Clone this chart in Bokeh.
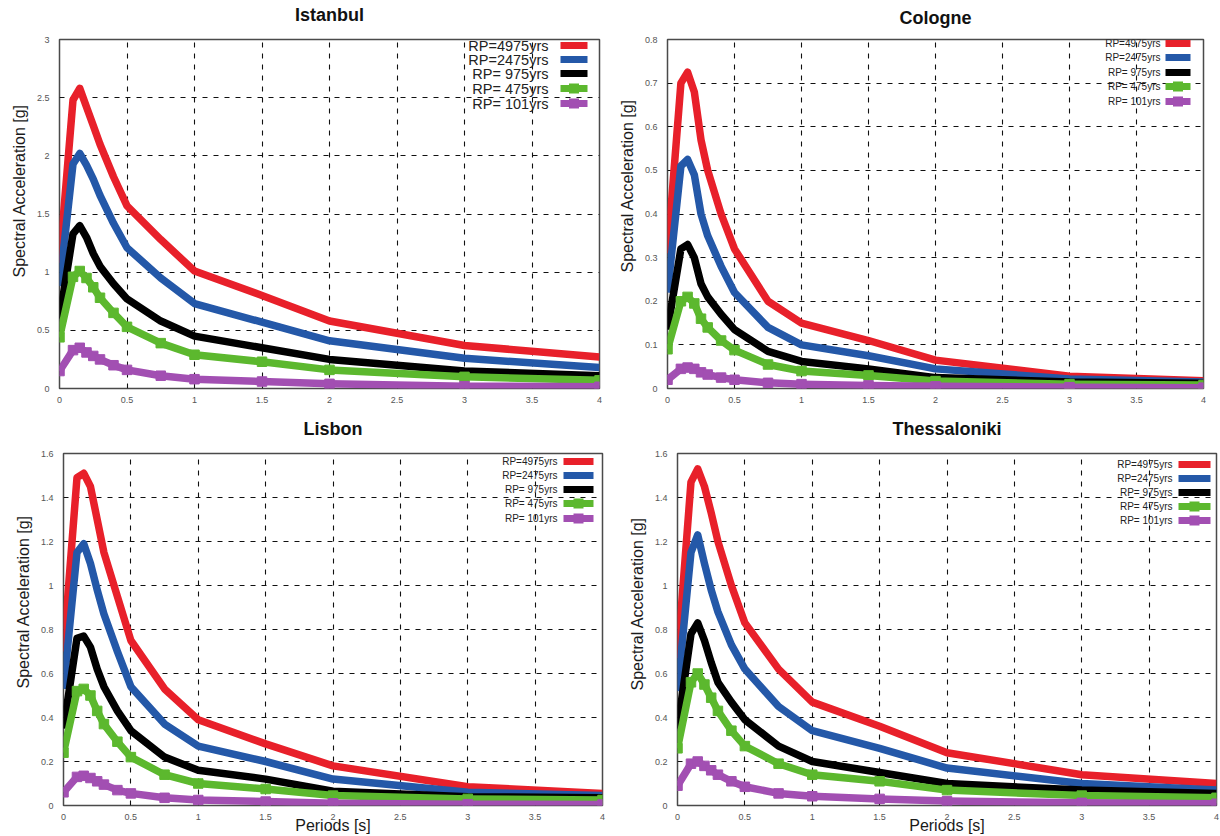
from bokeh.plotting import figure
from bokeh.layouts import column, row
from bokeh.models import FixedTicker, Title, Label, BoxAnnotation
from bokeh.embed import file_html
from bokeh.resources import INLINE

# ---------------- data ----------------
periods = [0.0, 0.1, 0.15, 0.2, 0.25, 0.3, 0.4, 0.5, 0.75, 1.0, 1.5, 2.0, 3.0, 4.0]
rp_labels = ["RP=4975yrs", "RP=2475yrs", "RP= 975yrs", "RP= 475yrs", "RP= 101yrs"]

istanbul_4975 = [1.08, 2.48, 2.58, 2.42, 2.26, 2.10, 1.82, 1.57, 1.28, 1.01, 0.80, 0.58, 0.37, 0.27]
istanbul_2475 = [0.88, 1.93, 2.02, 1.92, 1.80, 1.66, 1.42, 1.21, 0.95, 0.73, 0.57, 0.41, 0.26, 0.18]
istanbul_975 = [0.60, 1.33, 1.40, 1.30, 1.16, 1.05, 0.90, 0.77, 0.58, 0.45, 0.35, 0.25, 0.15, 0.11]
istanbul_475 = [0.44, 0.96, 1.01, 0.95, 0.87, 0.78, 0.65, 0.53, 0.39, 0.29, 0.23, 0.16, 0.10, 0.07]
istanbul_101 = [0.15, 0.33, 0.35, 0.31, 0.28, 0.25, 0.20, 0.16, 0.11, 0.08, 0.06, 0.04, 0.02, 0.015]

cologne_4975 = [0.31, 0.70, 0.725, 0.68, 0.57, 0.50, 0.40, 0.32, 0.20, 0.15, 0.11, 0.065, 0.028, 0.018]
cologne_2475 = [0.22, 0.51, 0.525, 0.49, 0.40, 0.35, 0.28, 0.22, 0.14, 0.10, 0.075, 0.045, 0.022, 0.015]
cologne_975 = [0.135, 0.32, 0.33, 0.30, 0.24, 0.21, 0.17, 0.135, 0.085, 0.062, 0.045, 0.025, 0.015, 0.012]
cologne_475 = [0.09, 0.20, 0.21, 0.195, 0.16, 0.14, 0.11, 0.088, 0.055, 0.04, 0.03, 0.017, 0.010, 0.008]
cologne_101 = [0.02, 0.045, 0.048, 0.045, 0.037, 0.032, 0.025, 0.02, 0.013, 0.01, 0.007, 0.005, 0.003, 0.002]

lisbon_4975 = [0.70, 1.49, 1.51, 1.45, 1.30, 1.15, 0.95, 0.75, 0.53, 0.39, 0.28, 0.18, 0.085, 0.055]
lisbon_2475 = [0.53, 1.15, 1.19, 1.10, 0.98, 0.87, 0.70, 0.54, 0.37, 0.27, 0.20, 0.12, 0.06, 0.045]
lisbon_975 = [0.35, 0.76, 0.77, 0.72, 0.62, 0.54, 0.43, 0.34, 0.22, 0.16, 0.12, 0.065, 0.04, 0.035]
lisbon_475 = [0.24, 0.52, 0.53, 0.50, 0.43, 0.37, 0.29, 0.22, 0.14, 0.10, 0.075, 0.045, 0.03, 0.025]
lisbon_101 = [0.06, 0.13, 0.135, 0.125, 0.11, 0.095, 0.07, 0.055, 0.035, 0.025, 0.018, 0.01, 0.006, 0.005]

thess_4975 = [0.67, 1.47, 1.53, 1.45, 1.33, 1.20, 1.00, 0.83, 0.62, 0.47, 0.36, 0.24, 0.14, 0.10]
thess_2475 = [0.52, 1.15, 1.23, 1.10, 0.98, 0.88, 0.73, 0.62, 0.45, 0.34, 0.26, 0.17, 0.10, 0.07]
thess_975 = [0.35, 0.78, 0.83, 0.75, 0.65, 0.56, 0.47, 0.39, 0.27, 0.20, 0.15, 0.10, 0.07, 0.055]
thess_475 = [0.26, 0.56, 0.60, 0.55, 0.49, 0.43, 0.34, 0.27, 0.19, 0.14, 0.11, 0.07, 0.045, 0.035]
thess_101 = [0.09, 0.19, 0.20, 0.18, 0.16, 0.14, 0.11, 0.085, 0.055, 0.042, 0.03, 0.02, 0.012, 0.008]

x_ticks = [0, 0.5, 1, 1.5, 2, 2.5, 3, 3.5, 4]
x_tick_labels = ["0", "0.5", "1", "1.5", "2", "2.5", "3", "3.5", "4"]

istanbul_y_ticks = [0, 0.5, 1, 1.5, 2, 2.5, 3]
istanbul_y_labels = ["0", "0.5", "1", "1.5", "2", "2.5", "3"]
cologne_y_ticks = [0, 0.1, 0.2, 0.3, 0.4, 0.5, 0.6, 0.7, 0.8]
cologne_y_labels = ["0", "0.1", "0.2", "0.3", "0.4", "0.5", "0.6", "0.7", "0.8"]
lisbon_y_ticks = [0, 0.2, 0.4, 0.6, 0.8, 1.0, 1.2, 1.4, 1.6]
lisbon_y_labels = ["0", "0.2", "0.4", "0.6", "0.8", "1", "1.2", "1.4", "1.6"]
thess_y_ticks = [0, 0.2, 0.4, 0.6, 0.8, 1.0, 1.2, 1.4, 1.6]
thess_y_labels = ["0", "0.2", "0.4", "0.6", "0.8", "1", "1.2", "1.4", "1.6"]

# ---------------- style ----------------
COLORS = ["#e8202a", "#2458a8", "#000000", "#5cb82e", "#a24fb2"]
MARKED = [False, False, False, True, True]
FONT = "Liberation Sans"


def make_panel(title, series, y_ticks, y_labels, ymax, width, height, borders,
               title_gap, ylab_offset, legend_style, xlabel=False):
    bl, br, bt, bb = borders
    fw = width - bl - br
    fh = height - bt - bb
    p = figure(width=width, height=height, x_range=(0, 4), y_range=(0, ymax),
               output_backend="svg", toolbar_location=None,
               min_border_left=bl, min_border_right=br,
               min_border_top=bt, min_border_bottom=bb)
    p.background_fill_color = "white"
    p.border_fill_color = "white"
    p.outline_line_color = "#4a4a4a"
    p.outline_line_width = 1.5

    # empty spacer next to the frame, then the panel title above it
    p.add_layout(Title(text=" ", text_font_size="1px", standoff=title_gap), "above")
    p.add_layout(Title(text=title, align="center", vertical_align="top", standoff=-4,
                       text_font=FONT, text_font_size="18px", text_font_style="bold",
                       text_color="#111111"), "above")

    for ax in (p.xaxis[0], p.yaxis[0]):
        ax.axis_line_color = None
        ax.major_tick_line_color = None
        ax.minor_tick_line_color = None
        ax.major_label_text_font = FONT
        ax.major_label_text_font_size = "9px"
        ax.major_label_text_color = "#555555"
    p.xaxis.ticker = FixedTicker(ticks=x_ticks)
    p.xaxis.major_label_overrides = dict(zip(x_ticks, x_tick_labels))
    p.xaxis.major_label_standoff = 2
    p.yaxis.ticker = FixedTicker(ticks=y_ticks)
    p.yaxis.major_label_overrides = dict(zip(y_ticks, y_labels))
    p.yaxis.major_label_standoff = 4

    if xlabel:
        p.xaxis.axis_label = "Periods [s]"
        p.xaxis.axis_label_text_font = FONT
        p.xaxis.axis_label_text_font_size = "16px"
        p.xaxis.axis_label_text_font_style = "normal"
        p.xaxis.axis_label_text_color = "#1a1a1a"
        p.xaxis.axis_label_standoff = -6

    ylab = Title(text="Spectral Acceleration [g]", align="left", offset=ylab_offset,
                 text_font=FONT, text_font_size="16px", text_font_style="normal",
                 text_color="#1a1a1a", standoff=12)
    p.add_layout(ylab, "left")

    for g in (p.xgrid[0], p.ygrid[0]):
        g.grid_line_color = "#111111"
        g.grid_line_dash = "5 6"
        g.grid_line_width = 1.1
    p.xgrid.ticker = FixedTicker(ticks=x_ticks)
    p.ygrid.ticker = FixedTicker(ticks=y_ticks)

    for vals, c, mk in zip(series, COLORS, MARKED):
        p.line(periods, vals, line_color=c, line_width=7.5, line_join="round")
        if mk:
            p.scatter(periods, vals, marker="square", size=9.5, color=c)

    # legend: text left, swatch right
    fs, text_right, sw_left, sw_right, rows = legend_style
    for lab, c, mk, ry in zip(rp_labels, COLORS, MARKED, rows):
        yc = fh - ry
        p.add_layout(Label(x=fw - text_right, y=yc, x_units="screen", y_units="screen",
                           text=lab, text_align="right", text_baseline="middle",
                           text_font=FONT, text_font_size=fs, text_color="#222222"))
        p.add_layout(BoxAnnotation(left=fw - sw_left, right=fw - sw_right,
                                   bottom=yc - 3.5, top=yc + 3.5,
                                   left_units="screen", right_units="screen",
                                   bottom_units="screen", top_units="screen",
                                   fill_color=c, fill_alpha=1.0, line_color=None))
        if mk:
            mid = fw - (sw_left + sw_right) / 2
            p.add_layout(BoxAnnotation(left=mid - 5, right=mid + 5,
                                       bottom=yc - 5, top=yc + 5,
                                       left_units="screen", right_units="screen",
                                       bottom_units="screen", top_units="screen",
                                       fill_color=c, fill_alpha=1.0, line_color=None))
    return p


p1 = make_panel("Istanbul",
                [istanbul_4975, istanbul_2475, istanbul_975, istanbul_475, istanbul_101],
                istanbul_y_ticks, istanbul_y_labels, 3, 610, 410, (59, 11, 35, 22),
                12, 111, ("14.5px", 51, 39, 12, [10, 24, 38, 53, 68]))
p2 = make_panel("Cologne",
                [cologne_4975, cologne_2475, cologne_975, cologne_475, cologne_101],
                cologne_y_ticks, cologne_y_labels, 0.8, 610, 410, (57, 17, 39, 17),
                9, 116, ("10px", 43, 38, 13, [9, 23, 38, 52, 67]))
p3 = make_panel("Lisbon",
                [lisbon_4975, lisbon_2475, lisbon_975, lisbon_475, lisbon_101],
                lisbon_y_ticks, lisbon_y_labels, 1.6, 610, 426, (63, 8, 43, 31),
                12, 117, ("10px", 45, 39, 9, [8, 22, 36, 50, 65]), xlabel=True)
p4 = make_panel("Thessaloniki",
                [thess_4975, thess_2475, thess_975, thess_475, thess_101],
                thess_y_ticks, thess_y_labels, 1.6, 610, 426, (67, 4, 43, 31),
                12, 115, ("10px", 44, 38, 6, [11, 25, 39, 53, 67]), xlabel=True)

layout = column(row(p1, p2), row(p3, p4))
open("out.html", "w").write(file_html(layout, INLINE))
